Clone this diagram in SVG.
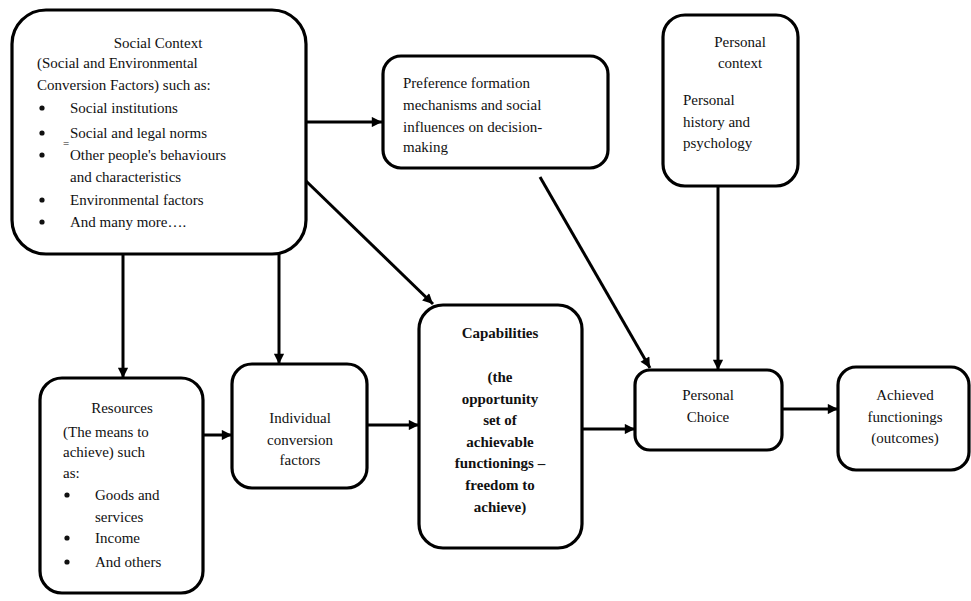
<svg xmlns="http://www.w3.org/2000/svg" width="971" height="601" viewBox="0 0 971 601" font-family="Liberation Serif, Times New Roman, serif">
<style>
.box{fill:#fff;stroke:#000;stroke-width:3.2}
text{font-size:15px;fill:#111}
.c{text-anchor:middle}
.b{font-weight:bold}
.dot{fill:#111}
.ln{stroke:#000;stroke-width:3;fill:none;marker-end:url(#ah)}
</style>
<defs>
<marker id="ah" viewBox="0 0 10 10" refX="10" refY="5" markerWidth="4" markerHeight="3.4" orient="auto" markerUnits="strokeWidth">
<path d="M0,0 L10,5 L0,10 z" fill="#000"/>
</marker>
</defs>
<rect width="971" height="601" fill="#fff"/>
<g id="connectors">
<line class="ln" x1="306" y1="122" x2="382" y2="122"/>
<line class="ln" x1="306" y1="181" x2="433" y2="304"/>
<line class="ln" x1="123" y1="254" x2="123" y2="378"/>
<line class="ln" x1="279" y1="254" x2="279" y2="364"/>
<line class="ln" x1="203" y1="435" x2="232" y2="435"/>
<line class="ln" x1="367" y1="425" x2="419" y2="425"/>
<line class="ln" x1="582" y1="429" x2="635" y2="429"/>
<line class="ln" x1="540" y1="177" x2="650" y2="368"/>
<line class="ln" x1="718" y1="187" x2="718" y2="370"/>
<line class="ln" x1="783" y1="409" x2="838" y2="409"/>
</g>
<g id="social-context">
<rect class="box" x="12" y="10" width="294" height="244" rx="34"/>
<text class="c" x="158" y="48">Social Context</text>
<text x="37" y="68">(Social and Environmental</text>
<text x="37" y="90">Conversion Factors) such as:</text>
<circle class="dot" cx="42" cy="108" r="2.6"/><text x="70" y="113">Social institutions</text>
<circle class="dot" cx="42" cy="133" r="2.6"/><text x="70" y="138">Social and legal norms</text>
<text x="63" y="147" style="font-size:11px">=</text>
<circle class="dot" cx="42" cy="155" r="2.6"/><text x="70" y="160">Other people's behaviours</text>
<text x="70" y="182">and characteristics</text>
<circle class="dot" cx="42" cy="200" r="2.6"/><text x="70" y="205">Environmental factors</text>
<circle class="dot" cx="42" cy="222" r="2.6"/><text x="70" y="227">And many more….</text>
</g>
<g id="preference">
<rect class="box" x="383" y="56" width="225" height="112" rx="18"/>
<text x="403" y="88">Preference formation</text>
<text x="403" y="110">mechanisms and social</text>
<text x="403" y="132">influences on decision-</text>
<text x="403" y="152">making</text>
</g>
<g id="personal-context">
<rect class="box" x="663" y="15" width="135" height="171" rx="22"/>
<text class="c" x="740" y="47">Personal</text>
<text class="c" x="740" y="68">context</text>
<text x="683" y="105">Personal</text>
<text x="683" y="127">history and</text>
<text x="683" y="148">psychology</text>
</g>
<g id="resources">
<rect class="box" x="40" y="378" width="163" height="215" rx="22"/>
<text class="c" x="122" y="413">Resources</text>
<text x="63" y="437">(The means to</text>
<text x="63" y="457">achieve) such</text>
<text x="63" y="478">as:</text>
<circle class="dot" cx="67" cy="495" r="2.6"/><text x="95" y="500">Goods and</text>
<text x="95" y="522">services</text>
<circle class="dot" cx="67" cy="538" r="2.6"/><text x="95" y="543">Income</text>
<circle class="dot" cx="67" cy="562" r="2.6"/><text x="95" y="567">And others</text>
</g>
<g id="individual-conversion">
<rect class="box" x="232" y="364" width="135" height="124" rx="20"/>
<text class="c" x="300" y="423">Individual</text>
<text class="c" x="300" y="445">conversion</text>
<text class="c" x="300" y="465">factors</text>
</g>
<g id="capabilities">
<rect class="box" x="419" y="305" width="163" height="243" rx="24"/>
<text class="c b" x="500" y="338">Capabilities</text>
<text class="c b" x="500" y="382">(the</text>
<text class="c b" x="500" y="404">opportunity</text>
<text class="c b" x="500" y="425">set of</text>
<text class="c b" x="500" y="447">achievable</text>
<text class="c b" x="500" y="468">functionings –</text>
<text class="c b" x="500" y="490">freedom to</text>
<text class="c b" x="500" y="512">achieve)</text>
</g>
<g id="personal-choice">
<rect class="box" x="635" y="370" width="147" height="80" rx="15"/>
<text class="c" x="708" y="400">Personal</text>
<text class="c" x="708" y="422">Choice</text>
</g>
<g id="achieved-functionings">
<rect class="box" x="838" y="367" width="131" height="103" rx="18"/>
<text class="c" x="905" y="400">Achieved</text>
<text class="c" x="905" y="422">functionings</text>
<text class="c" x="905" y="443">(outcomes)</text>
</g>
</svg>
